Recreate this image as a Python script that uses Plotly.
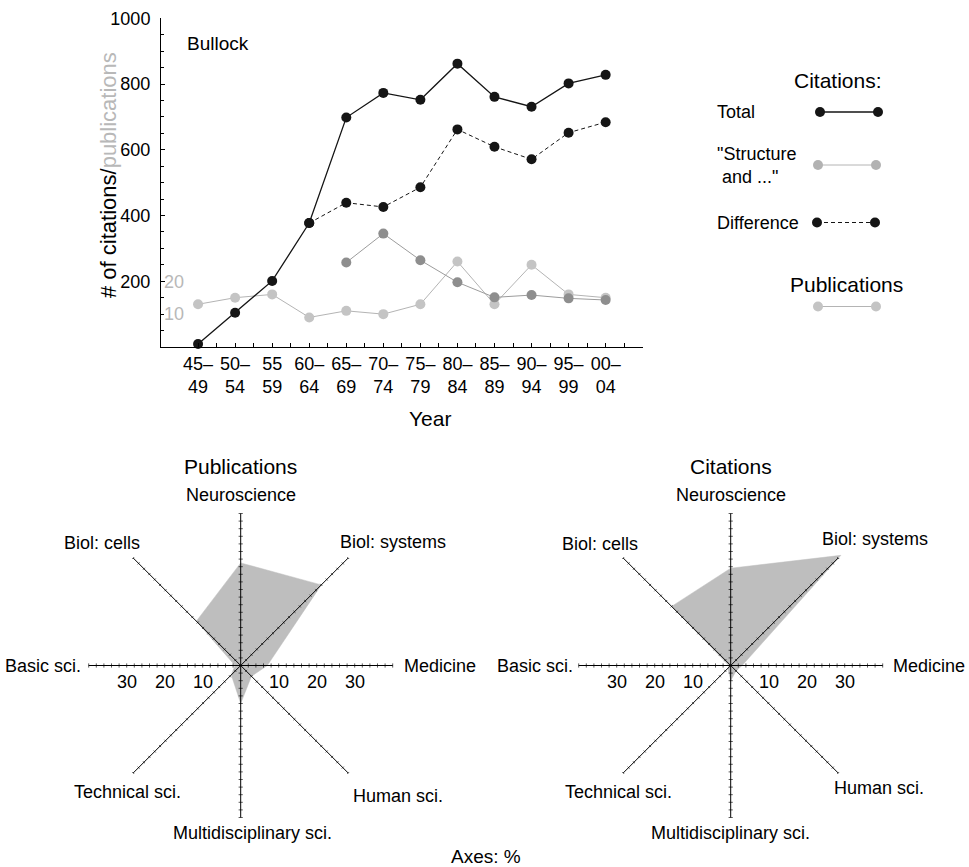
import math
import plotly.graph_objects as go

W, H = 969, 867
FONT = "Liberation Sans, Arial, Helvetica, sans-serif"

# ---------------- data ----------------
PERIODS = ["45–<br>49", "50–<br>54", "55<br>59", "60–<br>64", "65–<br>69", "70–<br>74",
           "75–<br>79", "80–<br>84", "85–<br>89", "90–<br>94", "95–<br>99", "00–<br>04"]
TOTAL_CITATIONS = [9, 104, 201, 377, 698, 773, 752, 862, 761, 731, 802, 828]
STRUCTURE_CITATIONS = [None, None, None, None, 257, 345, 264, 197, 151, 158, 148, 143]
DIFFERENCE_CITATIONS = [None, None, None, 377, 439, 426, 486, 662, 609, 571, 652, 684]
PUBLICATIONS = [13, 15, 16, 9, 11, 10, 13, 26, 13, 25, 16, 15]

CITATION_TICKS = [200, 400, 600, 800, 1000]
PUBLICATION_TICKS = [10, 20]

FIELDS = ["Neuroscience", "Biol: systems", "Medicine", "Human sci.",
          "Multidisciplinary sci.", "Technical sci.", "Basic sci.", "Biol: cells"]
FIELD_ANGLES = [90, 45, 0, -45, -90, -135, 180, 135]
PUB_SHARES = [27, 30, 7, 4, 10, 3.5, 1.5, 16.5]
CIT_SHARES = [25.6, 41, 3, 2, 4, 1, 0.5, 22]
RADAR_TICKS = [10, 20, 30]
RADAR_EXTENT = 40

# ---------------- helpers ----------------
def px(x):
    return x / W


def py(y):
    return 1 - y / H


BLACK = "#151515"
STRUCT_MARK = "#8e8e8e"
STRUCT_LINE = "#9c9c9c"
PUB_MARK = "#c4c4c4"
PUB_LINE = "#b4b4b4"
PUB_TEXT = "#b8b8b8"
FILL = "#bebebe"

fig = go.Figure()
idx = list(range(len(PERIODS)))

# publications on base y axis (0-100), citations on overlay y4 (0-1000)
fig.add_trace(go.Scatter(x=idx, y=PUBLICATIONS, mode="lines+markers", xaxis="x", yaxis="y",
                         line=dict(color=PUB_LINE, width=1),
                         marker=dict(color=PUB_MARK, size=10), cliponaxis=False,
                         hoverinfo="skip", showlegend=False))
fig.add_trace(go.Scatter(x=idx, y=STRUCTURE_CITATIONS, mode="lines+markers", xaxis="x", yaxis="y4",
                         line=dict(color=STRUCT_LINE, width=1),
                         marker=dict(color=STRUCT_MARK, size=10), cliponaxis=False,
                         hoverinfo="skip", showlegend=False))
fig.add_trace(go.Scatter(x=idx, y=DIFFERENCE_CITATIONS, mode="lines+markers", xaxis="x", yaxis="y4",
                         line=dict(color=BLACK, width=1, dash="4px,3px"),
                         marker=dict(color=BLACK, size=10), cliponaxis=False,
                         hoverinfo="skip", showlegend=False))
fig.add_trace(go.Scatter(x=idx, y=TOTAL_CITATIONS, mode="lines+markers", xaxis="x", yaxis="y4",
                         line=dict(color=BLACK, width=1.3),
                         marker=dict(color=BLACK, size=10), cliponaxis=False,
                         hoverinfo="skip", showlegend=False))

# ---------------- radar charts ----------------
annotations = []


def radar(shares, xa, ya, title, label_pos):
    xs = [s * math.cos(math.radians(a)) for s, a in zip(shares, FIELD_ANGLES)]
    ys = [s * math.sin(math.radians(a)) for s, a in zip(shares, FIELD_ANGLES)]
    fig.add_trace(go.Scatter(x=xs + [xs[0]], y=ys + [ys[0]], mode="lines", fill="toself",
                             fillcolor=FILL, line=dict(color=FILL, width=0.5),
                             xaxis=xa, yaxis=ya, hoverinfo="skip", showlegend=False))
    # spokes
    sx, sy = [], []
    for a in FIELD_ANGLES:
        sx += [0, RADAR_EXTENT * math.cos(math.radians(a)), None]
        sy += [0, RADAR_EXTENT * math.sin(math.radians(a)), None]
    fig.add_trace(go.Scatter(x=sx, y=sy, mode="lines", line=dict(color="black", width=1),
                             xaxis=xa, yaxis=ya, hoverinfo="skip", showlegend=False))
    # small tick marks along each spoke
    tx, ty, tang, tsize = [], [], [], []
    for a in FIELD_ANGLES:
        for r in range(2, RADAR_EXTENT + 1, 2):
            tx.append(r * math.cos(math.radians(a)))
            ty.append(r * math.sin(math.radians(a)))
            tang.append(-a)
            tsize.append(3 if a % 90 == 0 else 2)
    fig.add_trace(go.Scatter(x=tx, y=ty, mode="markers",
                             marker=dict(symbol="line-ns", size=tsize, angle=tang,
                                         line=dict(color="black", width=0.9)),
                             xaxis=xa, yaxis=ya, hoverinfo="skip", showlegend=False))
    xr = "x" + xa[1:]
    yr = "y" + ya[1:]
    annotations.append(dict(x=0, y=52.4, xref=xr, yref=yr, text=title, showarrow=False,
                            font=dict(size=21, color="black", family=FONT),
                            xanchor="center", yanchor="middle"))
    for name, (lx, ly, anc) in zip(FIELDS, label_pos):
        annotations.append(dict(x=lx, y=ly, xref=xr, yref=yr, text=name, showarrow=False,
                                font=dict(size=18, color="black", family=FONT),
                                xanchor=anc, yanchor="middle"))
    for t in RADAR_TICKS:
        for sgn in (-1, 1):
            annotations.append(dict(x=sgn * t, y=-4.3, xref=xr, yref=yr, text=str(t),
                                    showarrow=False, font=dict(size=18, color="black", family=FONT),
                                    xanchor="center", yanchor="middle"))


PUB_LABEL_POS = [(0, 45, "center"), (40.1, 32.4, "center"), (42.4, 0, "left"),
                 (41.3, -34.3, "center"), (3.0, -44, "center"), (-29.8, -33.2, "center"),
                 (-41.4, 0, "right"), (-36.4, 32.3, "center")]
CIT_LABEL_POS = [(0, 45, "center"), (38.0, 33.3, "center"), (42.2, 0, "left"),
                 (39.0, -32.3, "center"), (0, -44.1, "center"), (-29.5, -33.3, "center"),
                 (-41.0, 0, "right"), (-34.4, 32.0, "center")]

radar(PUB_SHARES, "x2", "y2", "Publications", PUB_LABEL_POS)
radar(CIT_SHARES, "x3", "y3", "Citations", CIT_LABEL_POS)

# ---------------- text annotations (paper) ----------------
def ptext(x, y, text, size=18, anchor="center", color="black"):
    annotations.append(dict(x=px(x), y=py(y), xref="paper", yref="paper", text=text,
                            showarrow=False, font=dict(size=size, color=color, family=FONT),
                            xanchor=anchor, yanchor="middle", align="left"))


ptext(185, 43, "Bullock", size=19, anchor="left")
ptext(430, 418, "Year", size=21)
annotations.append(dict(x=px(108), y=py(175), xref="paper", yref="paper",
                        text="# of citations/<span style='color:%s'>publications</span>" % PUB_TEXT,
                        textangle=-90, showarrow=False,
                        font=dict(size=22, color="black", family=FONT),
                        xanchor="center", yanchor="middle"))
ptext(838, 80, "Citations:", size=21)
ptext(715, 112, "Total", anchor="left")
ptext(715, 165, "\"Structure<br>\u00a0and ...\"", anchor="left")
ptext(715, 222.5, "Difference", anchor="left")
ptext(846, 285, "Publications", size=21)
ptext(486, 856, "Axes: %", size=19)

# legend samples (shapes)
shapes = []


def legend_sample(x0, x1, y, line_color, mark_color, dash="solid", width=1.0, r=5):
    shapes.append(dict(type="line", xref="paper", yref="paper", x0=px(x0), x1=px(x1),
                       y0=py(y), y1=py(y), line=dict(color=line_color, width=width, dash=dash)))
    for cx in (x0, x1):
        shapes.append(dict(type="circle", xref="paper", yref="paper",
                           x0=px(cx - r), x1=px(cx + r), y0=py(y + r), y1=py(y - r),
                           fillcolor=mark_color, line=dict(width=0)))


legend_sample(820, 878, 112, BLACK, BLACK, width=1.3)
legend_sample(818, 876, 165, PUB_LINE, "#b2b2b2")
legend_sample(817, 875, 222.5, BLACK, BLACK, dash="4px,3px")
legend_sample(818, 876, 306.5, PUB_LINE, PUB_MARK)

# ---------------- layout ----------------
axis_common = dict(showgrid=False, zeroline=False, automargin=False)
x_dom = [px(161), px(642.7)]
y_dom = [py(347), py(18.3)]

radar_y_dom = [py(665.5 + 50 * 3.8), py(665.5 - 55 * 3.8)]
fig.update_layout(
    width=W, height=H, autosize=False,
    margin=dict(l=0, r=0, t=0, b=0, pad=0, autoexpand=False),
    paper_bgcolor="white", plot_bgcolor="rgba(0,0,0,0)",
    font=dict(family=FONT, size=18, color="black"),
    showlegend=False,
    xaxis=dict(domain=x_dom, range=[-1, 12], tickvals=idx, ticktext=PERIODS,
               showline=True, linecolor="black", linewidth=1,
               ticks="inside", ticklen=4, tickcolor="black",
               minor=dict(dtick=0.5, tick0=0, ticks="inside", ticklen=4, tickcolor="black"),
               tickfont=dict(size=18, color="black", family=FONT),
               ticklabelstandoff=0, anchor="y", **axis_common),
    yaxis=dict(domain=y_dom, range=[0, 100], tickvals=PUBLICATION_TICKS,
               ticklabelposition="inside", ticks="", showline=False,
               tickfont=dict(size=18, color=PUB_TEXT, family=FONT),
               anchor="x", **axis_common),
    yaxis4=dict(range=[0, 1000], overlaying="y", anchor="x", side="left",
                tickvals=CITATION_TICKS, showline=True, linecolor="black", linewidth=1,
                ticks="inside", ticklen=4, tickcolor="black",
                minor=dict(dtick=50, ticks="inside", ticklen=3, tickcolor="black"),
                tickfont=dict(size=18, color="black", family=FONT),
                ticklabelstandoff=6, **axis_common),
    xaxis2=dict(domain=[px(240.7 - 190), px(240.7 + 190)], range=[-50, 50], visible=False,
                anchor="y2", **axis_common),
    yaxis2=dict(domain=radar_y_dom, range=[-50, 55], visible=False, anchor="x2", **axis_common),
    xaxis3=dict(domain=[px(730.7 - 190), px(730.7 + 190)], range=[-50, 50], visible=False,
                anchor="y3", **axis_common),
    yaxis3=dict(domain=radar_y_dom, range=[-50, 55], visible=False, anchor="x3", **axis_common),
    annotations=annotations,
    shapes=shapes,
)

fig.write_html("out.html", config={"displayModeBar": False},
               post_script="document.body.style.margin='0px';")
